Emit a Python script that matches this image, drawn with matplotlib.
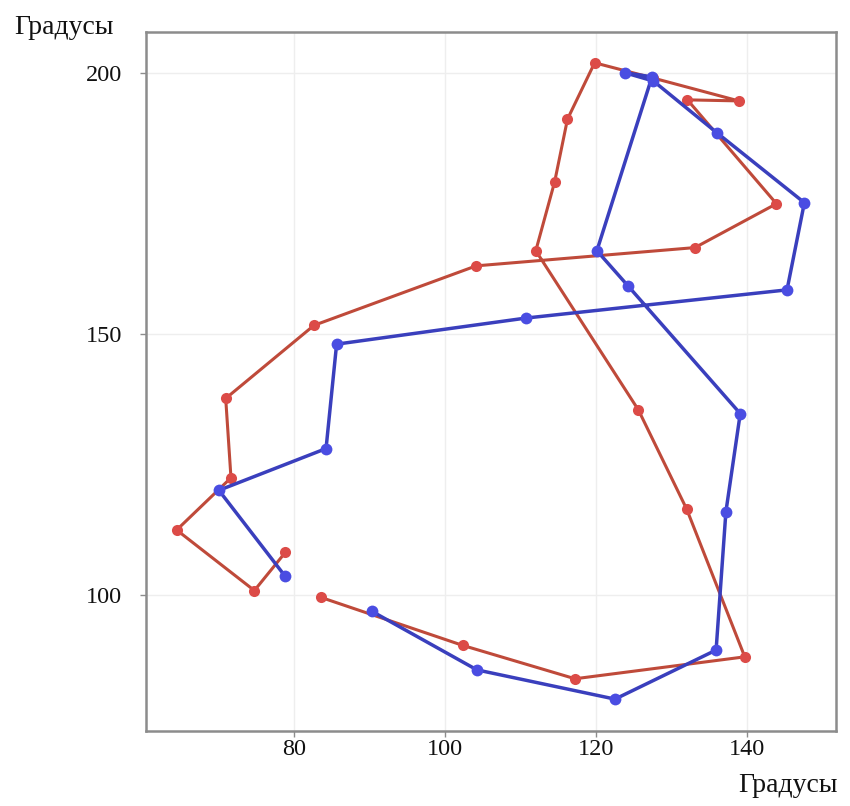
import matplotlib
matplotlib.use("Agg")
import matplotlib.pyplot as plt

# Красная траектория (градусы)
red_x = [78.8, 74.7, 64.4, 71.6, 70.9, 82.6, 104.1, 133.1, 143.9, 132.1, 138.9,
         127.5, 119.8, 116.2, 114.5, 112.0, 125.6, 132.0, 139.7, 117.2, 102.3, 83.5]
red_y = [108.2, 100.9, 112.5, 122.5, 137.7, 151.7, 163.1, 166.6, 175.0, 194.9, 194.7,
         199.1, 202.0, 191.2, 179.2, 166.0, 135.5, 116.5, 88.2, 84.0, 90.4, 99.6]

# Синяя траектория (градусы)
blue_x = [78.8, 70.0, 84.2, 85.6, 110.7, 145.3, 147.6, 136.0, 127.6, 123.8,
          127.4, 120.1, 124.2, 139.1, 137.2, 135.9, 122.5, 104.2, 90.3]
blue_y = [103.6, 120.1, 128.1, 148.1, 153.1, 158.5, 175.2, 188.6, 198.5, 200.1,
          199.3, 166.0, 159.3, 134.8, 116.0, 89.5, 80.1, 85.7, 96.9]

x_ticks = [80, 100, 120, 140]
y_ticks = [100, 150, 200]

plt.rcParams['font.family'] = ['Liberation Serif', 'DejaVu Serif']

fig = plt.figure(figsize=(8.5, 8.06), dpi=100)
ax = fig.add_axes([0.1718, 0.0931, 0.8118, 0.8672])

ax.plot(red_x, red_y, '-', color='#bf4a3a', lw=2.2, zorder=2)
ax.plot(red_x, red_y, 'o', color='#dc4b47', ms=8, mec='none', zorder=3)
ax.plot(blue_x, blue_y, '-', color='#3a3fbd', lw=2.5, zorder=4)
ax.plot(blue_x, blue_y, 'o', color='#4a4de2', ms=8.5, mec='none', zorder=5)

ax.set_xlim(60.34, 151.8)
ax.set_ylim(74.0, 207.9)
ax.set_xticks(x_ticks)
ax.set_yticks(y_ticks)
ax.grid(True, color='#eeeeee', lw=1.0, zorder=0)
ax.set_axisbelow(True)

for s in ax.spines.values():
    s.set_color('#8c8c8c')
    s.set_linewidth(1.8)

ax.tick_params(axis='both', direction='out', length=4, width=1, color='#8c8c8c',
               labelsize=17.5, labelcolor='#111111')
ax.tick_params(axis='y', pad=13)
ax.tick_params(axis='x', pad=2)

fig.text(64 / 850, 1 - 28 / 806, 'Градусы', ha='center', va='center', fontsize=20, color='#111111')
fig.text(788 / 850, 1 - 785 / 806, 'Градусы', ha='center', va='center', fontsize=20, color='#111111')

fig.savefig('out.png', dpi=100)
